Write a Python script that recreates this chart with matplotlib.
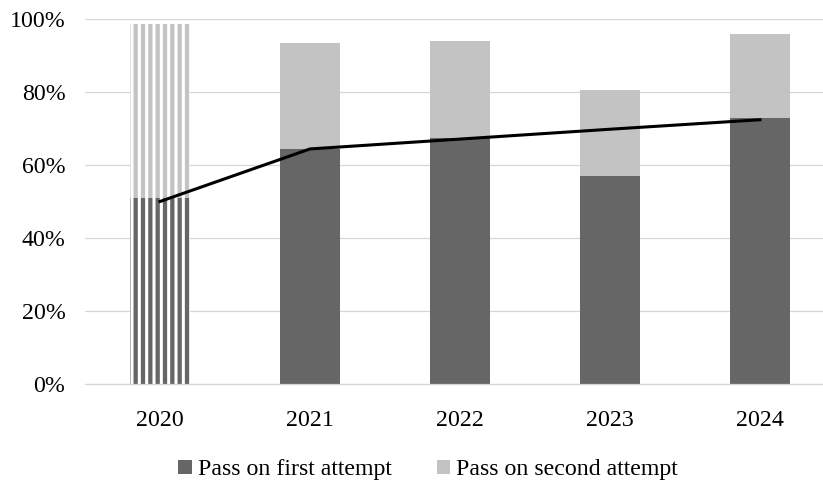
import numpy as np
import matplotlib.pyplot as plt
from matplotlib.ticker import PercentFormatter

years = ['2020', '2021', '2022', '2023', '2024']
first_attempt = [51.0, 64.5, 67.5, 57.0, 73.0]
second_attempt = [47.5, 29.0, 26.5, 23.5, 23.0]
trend = [50.0, 64.4, 67.1, 69.8, 72.4]

dark = '#666666'
light = '#c3c3c3'

plt.rcParams['font.family'] = ['Liberation Serif', 'DejaVu Serif']
plt.rcParams['hatch.linewidth'] = 3.5

DPI = 88
fig = plt.figure(figsize=(823 / DPI, 488 / DPI), dpi=DPI)
ax = fig.add_axes([85 / 823, 104 / 488, 750 / 823, 365 / 488])

x = np.arange(len(years))
b1 = ax.bar(x, first_attempt, width=0.4, color=dark, linewidth=0, zorder=2)
b2 = ax.bar(x, second_attempt, width=0.4, bottom=first_attempt, color=light,
            linewidth=0, zorder=2)

# 2020 drawn as vertical stripes
for bar, col in [(b1[0], dark), (b2[0], light)]:
    bar.set_facecolor('white')
    bar.set_edgecolor(col)
    bar.set_hatch('||')

ax.plot(x, trend, color='black', linewidth=2.5, zorder=3)

ax.set_xlim(-0.5, 4.5)
ax.set_ylim(0, 100)
ax.set_yticks(np.arange(0, 101, 20))
ax.yaxis.set_major_formatter(PercentFormatter(decimals=0))
ax.set_xticks(x)
ax.set_xticklabels(years)
ax.tick_params(axis='y', length=0, pad=16, labelsize=19.5)
ax.tick_params(axis='x', length=0, pad=21, labelsize=19.5)
ax.grid(axis='y', color='#d6d6d6', linewidth=1.0, zorder=0)
ax.set_axisbelow(True)
for s in ['top', 'right', 'left']:
    ax.spines[s].set_visible(False)
ax.spines['bottom'].set_color('#d6d6d6')
ax.spines['bottom'].set_linewidth(1.0)

fig.legend([b1[1], b2[1]], ['Pass on first attempt', 'Pass on second attempt'],
           loc='center', bbox_to_anchor=(0.52, 0.037), ncol=2, frameon=False,
           fontsize=19.5, handlelength=0.55, handleheight=0.55, handletextpad=0.25,
           columnspacing=1.9)

fig.savefig('out.png', dpi=DPI)
